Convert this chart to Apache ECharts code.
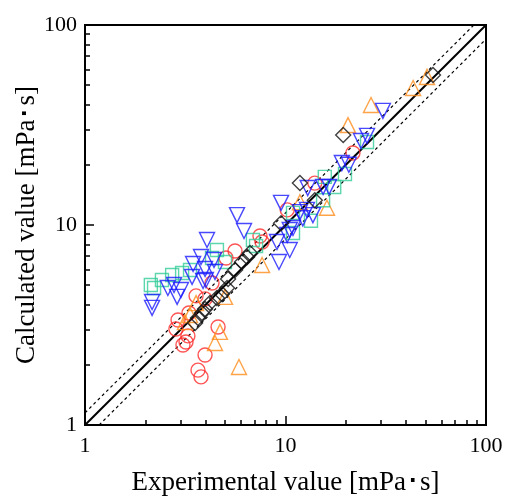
<!DOCTYPE html>
<html>
<head>
<meta charset="utf-8">
<script src="https://cdn.jsdelivr.net/npm/echarts@6/dist/echarts.min.js"></script>
<style>html,body{margin:0;padding:0;background:#fff}#c{width:506px;height:496px}</style>
</head>
<body>
<div id="c"></div>
<script>
// Data: [experimental, calculated] in mPa·s
var redCircles = [[2.84,3.02],[2.91,3.35],[3.08,2.51],[3.19,2.60],[3.26,2.79],[3.30,3.63],[3.66,1.88],[3.79,1.74],[3.97,2.24],[3.97,4.27],[4.30,5.13],[4.61,3.09],[5.60,7.41],[7.46,8.81],[7.64,8.22],[10.2,11.9],[14.0,16.2],[21.7,22.9],[5.05,6.84],[3.58,4.42]];
var orangeTriangles = [[3.15,3.27],[3.34,3.55],[3.58,4.07],[4.45,2.57],[4.71,2.92],[4.99,4.37],[5.86,1.95],[7.64,6.31],[16.1,12.2],[20.5,31.6],[26.7,39.8],[43.3,48.4],[50.8,55.0],[11.8,13.0]];
var tealSquares = [[2.13,5.01],[2.21,4.84],[2.42,5.31],[2.72,5.62],[3.05,5.75],[3.34,5.96],[4.30,6.84],[4.55,7.50],[6.88,8.41],[7.13,7.85],[10.9,11.5],[10.9,9.12],[13.4,10.5],[15.4,13.3],[15.7,17.4],[17.5,15.5],[19.8,18.0],[25.5,26.0],[4.99,6.53]];
var blueInvTriangles = [[2.16,4.12],[2.16,3.85],[2.59,4.84],[2.78,5.01],[2.88,4.37],[3.01,4.73],[3.42,5.50],[3.46,6.38],[3.79,6.92],[3.88,5.25],[3.97,6.03],[4.06,8.41],[4.40,6.68],[4.45,5.82],[4.01,5.31],[5.73,11.2],[6.21,9.33],[9.07,8.22],[9.50,12.9],[9.28,6.53],[10.2,8.91],[10.5,7.50],[10.9,9.66],[11.8,11.6],[12.2,10.8],[12.8,11.9],[13.7,11.2],[10.5,9.44],[12.9,15.3],[15.4,15.5],[16.5,15.5],[19.1,20.4],[20.7,20.0],[23.8,26.3],[25.5,27.9],[30.6,37.2]];
var blackDiamonds = [[3.54,3.24],[3.66,3.43],[3.83,3.63],[3.97,3.80],[4.20,4.07],[4.55,4.32],[4.82,4.52],[5.11,4.84],[5.17,5.37],[5.60,5.96],[6.07,6.53],[6.43,6.92],[6.65,7.24],[9.50,10.2],[11.8,16.2],[14.0,13.3],[19.4,28.2],[54.4,56.2]];
var axisMajorTicks = [1, 10, 100];
var axisMinorTicks = [2,3,4,5,6,7,8,9,20,30,40,50,60,70,80,90];
var bandFactors = [1.15, 0.85];
var axisMin = 1, axisMax = 100;

var font = '"Liberation Serif", "Times New Roman", serif';
var chart = echarts.init(document.getElementById('c'), null, {renderer: 'canvas'});

function diagLine(f) {
  var x0 = Math.max(axisMin, axisMin / f);
  var x1 = Math.min(axisMax, axisMax / f);
  return [[x0, x0 * f], [x1, x1 * f]];
}

function mkAxis(isX, major) {
  return {
    type: 'log', logBase: 10, min: axisMin, max: axisMax,
    position: isX ? 'bottom' : 'left',
    axisLine: {show: major, onZero: false, lineStyle: {color: '#000', width: 2}},
    axisTick: {show: true, inside: true, length: major ? 9 : 5, customValues: major ? axisMajorTicks : axisMinorTicks,
      lineStyle: {color: '#000', width: 1.5}},
    axisLabel: {show: major, customValues: axisMajorTicks, color: '#000', fontFamily: font, fontSize: 22,
      margin: isX ? 10 : 8},
    splitLine: {show: false},
    name: major ? (isX ? 'Experimental value [mPa･s]' : 'Calculated value [mPa･s]') : '',
    nameLocation: 'middle',
    nameMoveOverlap: false,
    nameGap: isX ? 44 : 45,
    nameTextStyle: {color: '#000', fontFamily: font, fontSize: 27}
  };
}

function scatter(name, data, symbol, color, size, rotate) {
  return {
    name: name, type: 'scatter', data: data, symbol: symbol, symbolSize: size, symbolRotate: rotate || 0,
    xAxisIndex: 0, yAxisIndex: 0,
    itemStyle: {color: 'rgba(0,0,0,0)', borderColor: color, borderWidth: 1.4},
    emphasis: {disabled: true}, z: 3
  };
}

var series = [];
bandFactors.forEach(function (f) {
  series.push({type: 'line', data: diagLine(f), symbol: 'none', xAxisIndex: 0, yAxisIndex: 0,
    lineStyle: {color: '#000', width: 1.2, type: [3, 3]}, z: 2, silent: true});
});
series.push({type: 'line', data: diagLine(1), symbol: 'none', xAxisIndex: 0, yAxisIndex: 0,
  lineStyle: {color: '#000', width: 2}, z: 2, silent: true});
series.push(scatter('red', redCircles, 'circle', '#ff2a2a', 14));
series.push(scatter('orange', orangeTriangles, 'triangle', '#ff8c1a', 15));
series.push(scatter('teal', tealSquares, 'rect', '#33cc99', 13));
series.push(scatter('blue', blueInvTriangles, 'triangle', '#1a1aff', 15, 180));
series.push(scatter('black', blackDiamonds, 'diamond', '#111111', 15));

chart.setOption({
  animation: false,
  backgroundColor: '#fff',
  grid: {left: 85, right: 20, top: 25, bottom: 71, show: true, borderColor: '#000', borderWidth: 2, backgroundColor: 'transparent', outerBoundsMode: 'none', containLabel: false},
  xAxis: [mkAxis(true, true), mkAxis(true, false)],
  yAxis: [mkAxis(false, true), mkAxis(false, false)],
  series: series
});
</script>
</body>
</html>
